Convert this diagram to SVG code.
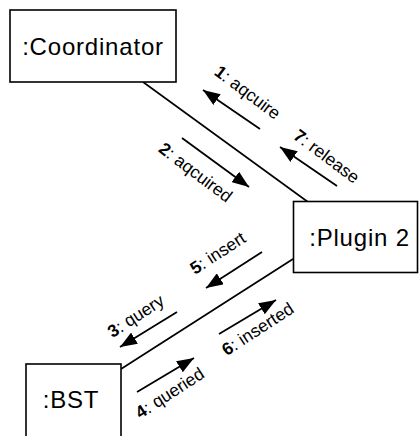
<svg xmlns="http://www.w3.org/2000/svg" width="419" height="436" viewBox="0 0 419 436">
<style>
.box{fill:#fff;stroke:#000;stroke-width:1.6}
.name{font-family:"Liberation Sans",Arial,sans-serif;font-size:24px;fill:#000;text-anchor:middle;letter-spacing:0.8px}
.conn{stroke:#000;stroke-width:1.7;fill:none}
.msg{stroke:#000;stroke-width:1.8;fill:none;marker-end:url(#ah)}
.lbl{font-family:"Liberation Sans",Arial,sans-serif;font-size:17.5px;fill:#000;text-anchor:middle}
.num{font-weight:bold}
</style>
<defs>
<marker id="ah" markerUnits="userSpaceOnUse" markerWidth="17" markerHeight="13" refX="17" refY="6.5" orient="auto">
<path d="M0,0 L17,6.5 L0,13 z" fill="#000"/>
</marker>
</defs>
<g id="connectors">
<line class="conn" x1="143" y1="82" x2="308" y2="202"/>
<line class="conn" x1="121" y1="369" x2="293" y2="259"/>
<line class="msg" x1="260" y1="129" x2="203" y2="90"/>
<line class="msg" x1="337" y1="186" x2="280" y2="147"/>
<line class="msg" x1="182" y1="138" x2="249" y2="187"/>
<line class="msg" x1="262" y1="252" x2="206" y2="288"/>
<line class="msg" x1="177" y1="312" x2="120" y2="347"/>
<line class="msg" x1="137" y1="392" x2="194" y2="358"/>
<line class="msg" x1="219" y1="334" x2="276" y2="300"/>
<text class="lbl" transform="translate(244,97) rotate(37)"><tspan class="num">1</tspan>: aqcuire</text>
<text class="lbl" transform="translate(192,177) rotate(37)"><tspan class="num">2</tspan>: aqcuired</text>
<text class="lbl" transform="translate(323,161) rotate(37)"><tspan class="num">7</tspan>: release</text>
<text class="lbl" transform="translate(221,258) rotate(-33)"><tspan class="num">5</tspan>: insert</text>
<text class="lbl" transform="translate(139,321) rotate(-33)"><tspan class="num">3</tspan>: query</text>
<text class="lbl" transform="translate(173,398) rotate(-33)"><tspan class="num">4</tspan>: queried</text>
<text class="lbl" transform="translate(261,334) rotate(-33)"><tspan class="num">6</tspan>: inserted</text>
</g>
<g id="coordinator">
<rect class="box" x="10" y="10" width="166" height="72"/>
<text class="name" x="93" y="55">:Coordinator</text>
</g>
<g id="plugin2">
<rect class="box" x="293.5" y="201.5" width="124" height="71"/>
<text class="name" x="359.5" y="246">:Plugin 2</text>
</g>
<g id="bst">
<rect class="box" x="26" y="364" width="95" height="80"/>
<text class="name" x="71" y="408">:BST</text>
</g>
</svg>
